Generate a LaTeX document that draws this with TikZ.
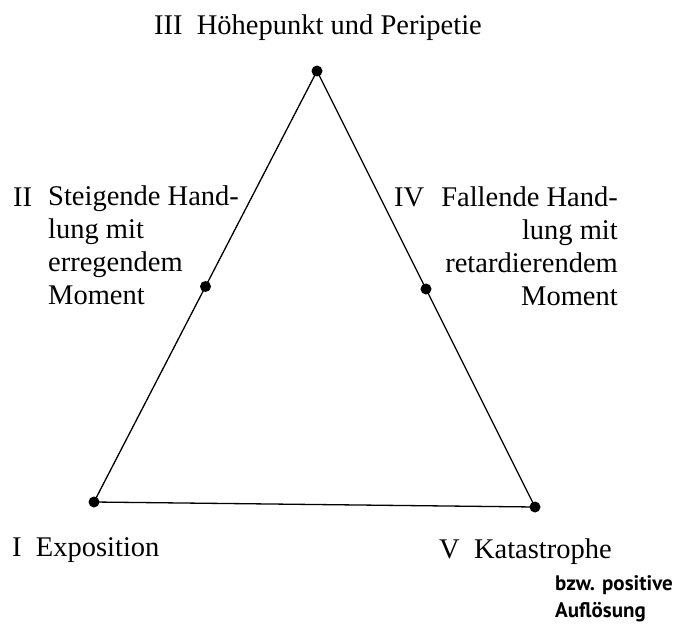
\documentclass[tikz,border=0pt]{standalone}
\usepackage{fontspec}
\usetikzlibrary{calc}
\setmainfont{Liberation Serif}
\newfontfamily\notesans{PT Sans}
\begin{document}
\begin{tikzpicture}[x=1pt,y=-1pt,
  lbl/.style={inner sep=0pt, font=\fontsize{28.5}{33}\selectfont},
  note/.style={inner sep=0pt, font=\notesans\bfseries\fontsize{21}{27}\selectfont},
  pt/.style={circle, fill=black, inner sep=0pt, minimum size=11pt},
  edge/.style={line width=1.3pt}]
\useasboundingbox (0,0) rectangle (676,623);
\coordinate (A) at (94,502);
\coordinate (C) at (317,71);
\coordinate (E) at (535,507);
\draw[edge] (A) -- (C) -- (E) -- cycle;
\node[pt] (p1) at (A) {};
\node[pt] (p3) at (C) {};
\node[pt] (p5) at (E) {};
\node[pt] (p2) at ($(A)!0.5!(C)$) {};
\node[pt] (p4) at ($(C)!0.5!(E)$) {};
% labels
\node[lbl, anchor=base] (t3) at (318,35) {III\ \ Höhepunkt und Peripetie};
\node[lbl, anchor=base west] (n2) at (13,206) {II};
\node[lbl, anchor=base west, align=left] (t2) at (48,304) {Steigende Hand-\\lung mit\\erregendem\\Moment};
\node[lbl, anchor=base west] (n4) at (394,206) {IV};
\node[lbl, anchor=base east, align=right] (t4) at (618,305) {Fallende Hand-\\lung mit\\retardierendem\\Moment};
\node[lbl, anchor=base west] (t1) at (12,556) {I\ \ Exposition};
\node[lbl, anchor=base west] (t5) at (439,558) {V\ \ Katastrophe};
\node[note, anchor=base west, align=left] (t6) at (555,617) {bzw. positive\\Auflösung};
\end{tikzpicture}
\end{document}
